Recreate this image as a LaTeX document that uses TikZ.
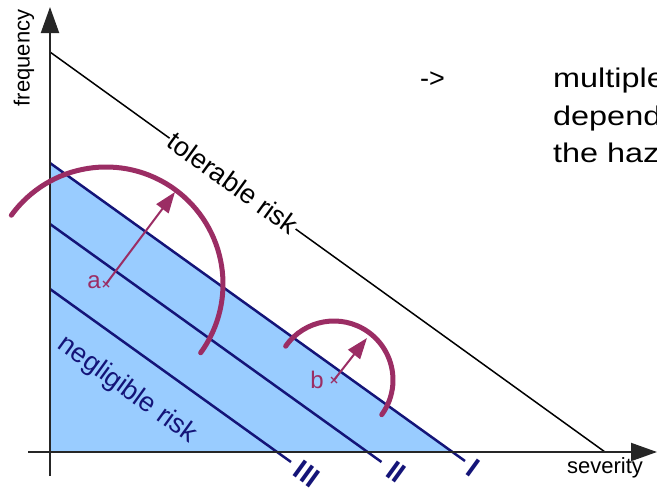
\documentclass[tikz,border=0pt]{standalone}
\usepackage{fontspec}
\setmainfont{Liberation Sans}
\usetikzlibrary{arrows.meta}
\definecolor{navyline}{RGB}{20,20,120}
\definecolor{riskfill}{RGB}{153,204,255}
\definecolor{plum}{RGB}{155,45,100}
\begin{document}
\begin{tikzpicture}[x=1pt,y=-1pt,
  axis/.style={line width=2pt, black!85, -{Triangle[length=26pt,width=18pt]}},
  riskline/.style={line width=2.5pt, navyline},
  arcline/.style={line width=5pt, plum, line cap=round},
  radiusarrow/.style={line width=2pt, plum, -{Triangle[length=21pt,width=15pt]}},
  crossmark/.style={line width=1.3pt, plum},
  axislabel/.style={inner sep=0pt, font=\fontsize{22}{25}\selectfont},
  risklabel/.style={inner sep=1pt, rotate=-36, font=\fontsize{27}{30}\selectfont},
  roman/.style={inner sep=0pt, rotate=-36, navyline, font=\fontsize{28}{30}\selectfont\bfseries},
  pointlabel/.style={inner sep=0pt, plum, font=\fontsize{24}{28}\selectfont},
  note/.style={inner sep=0pt, anchor=base west, font=\fontsize{27}{30}\selectfont}]
\clip (0,0) rectangle (657,493);
% coordinates
\coordinate (O) at (50,452);
\coordinate (I0) at (50,163);  \coordinate (I1) at (465,461); \coordinate (Ix) at (452.5,452);
\coordinate (II0) at (50,224); \coordinate (II1) at (381.5,462);
\coordinate (III0) at (50,289); \coordinate (III1) at (291,462);
\coordinate (T0) at (50,52);   \coordinate (T1) at (605,452);
\coordinate (ca) at (106,284); \coordinate (ta) at (175,192);
\coordinate (cb) at (334,380); \coordinate (tb) at (367,338);
% blue region
\fill[riskfill] (I0) -- (Ix) -- (O) -- cycle;
% risk lines
\draw[riskline] (I0) -- (I1);
\draw[riskline] (II0) -- (II1);
\draw[riskline] (III0) -- (III1);
% tolerable risk line
\draw[line width=1.5pt] (T0) -- (T1);
\node[risklabel, fill=white] (tol) at (233,183) {tolerable risk};
\node[risklabel, navyline] (neg) at (127,390) {negligible risk};
% axes
\coordinate (Ybot) at (50,476); \coordinate (Ytop) at (50,7);
\coordinate (Xleft) at (28,452); \coordinate (Xright) at (657,452);
\draw[axis] (Ybot) -- (Ytop);
\draw[axis] (Xleft) -- (Xright);
\node[axislabel, rotate=90] (freq) at (24,58) {frequency};
\node[axislabel] (sev) at (605,468) {severity};
% roman numerals
\node[roman] (r1) at (473,468) {I};
\node[roman] (r2) at (396,472) {II};
\node[roman] (r3) at (307,474) {III};
% arcs
\draw[arcline] (ca) ++(-144:117) arc[start angle=-144, end angle=36, radius=117];
\draw[arcline] (cb) ++(-145:59) arc[start angle=-145, end angle=36, radius=59];
\draw[radiusarrow] (ca) -- (ta);
\draw[radiusarrow] (cb) -- (tb);
\draw[crossmark] (ca) ++(-3,-3) -- ++(6,6) (ca) ++(-3,3) -- ++(6,-6);
\draw[crossmark] (cb) ++(-3,-3) -- ++(6,6) (cb) ++(-3,3) -- ++(6,-6);
\node[pointlabel] (la) at (94,282) {a};
\node[pointlabel] (lb) at (317,380) {b};
% note text
\node[note] (arr) at (420,87) {->};
\node[note] (n1) at (553,87) {\scalebox{1.2}[1]{multiple}};
\node[note] (n2) at (553,125) {\scalebox{1.2}[1]{depend}};
\node[note] (n3) at (553,162) {\scalebox{1.2}[1]{the haz}};
\end{tikzpicture}
\end{document}
